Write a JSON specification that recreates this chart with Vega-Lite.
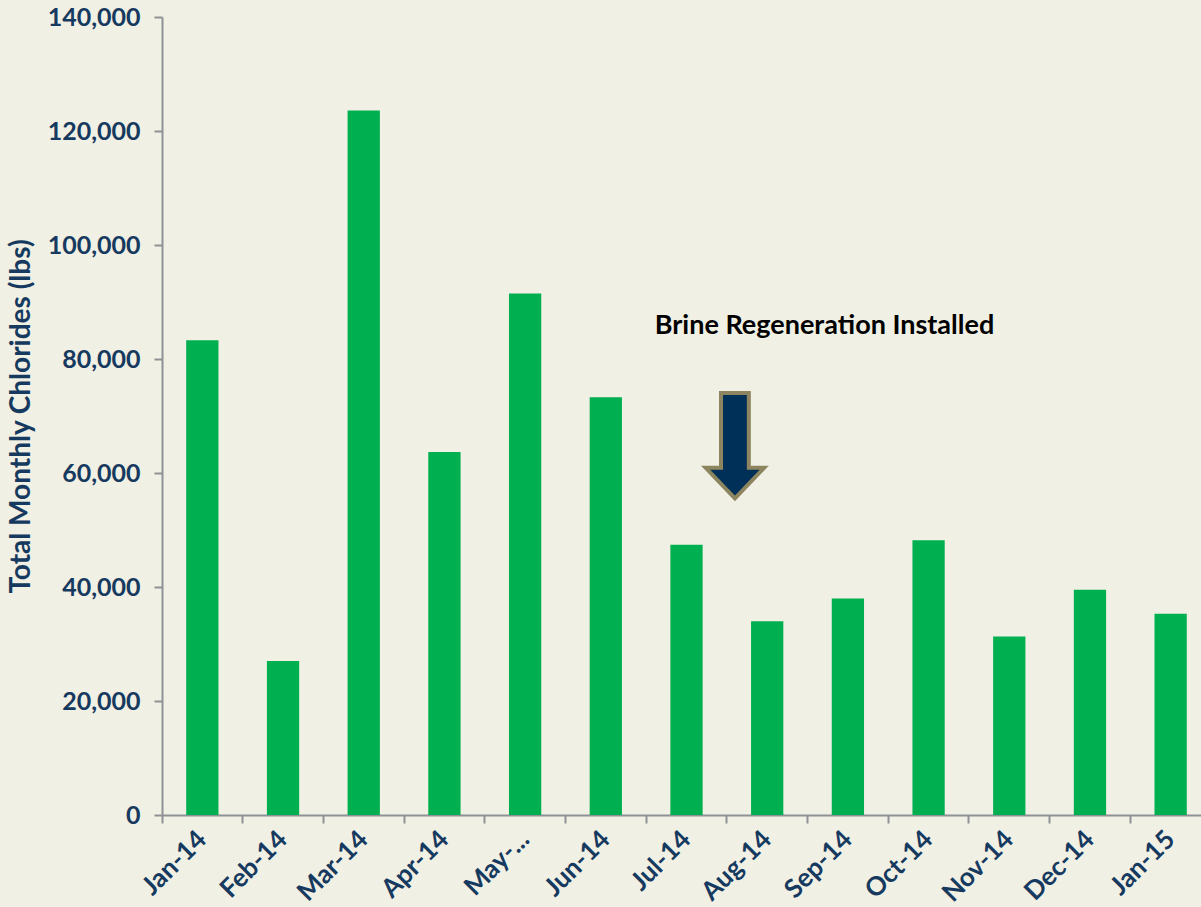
{
  "$schema": "https://vega.github.io/schema/vega-lite/v6.json",
  "autosize": {"type": "none"},
  "padding": {"left": 162, "top": 17, "right": 0, "bottom": 92},
  "width": 1049,
  "height": 798,
  "background": "#F1F0E4",
  "config": {
    "view": {"stroke": null},
    "font": "Lato"
  },
  "datasets": {
    "bars": [
      {"month": "Jan-14", "chlorides": 83300},
      {"month": "Feb-14", "chlorides": 27000},
      {"month": "Mar-14", "chlorides": 123600},
      {"month": "Apr-14", "chlorides": 63700},
      {"month": "May-...", "chlorides": 91500},
      {"month": "Jun-14", "chlorides": 73300},
      {"month": "Jul-14", "chlorides": 47400},
      {"month": "Aug-14", "chlorides": 34000},
      {"month": "Sep-14", "chlorides": 38000},
      {"month": "Oct-14", "chlorides": 48200},
      {"month": "Nov-14", "chlorides": 31300},
      {"month": "Dec-14", "chlorides": 39500},
      {"month": "Jan-15", "chlorides": 35300}
    ],
    "note": [
      {"month": "Aug-14", "label": "Brine Regeneration Installed", "textY": 85800, "arrowY": 64800}
    ]
  },
  "layer": [
    {
      "data": {"name": "bars"},
      "mark": {"type": "bar", "color": "#00B050", "width": {"band": 0.4}},
      "encoding": {
        "x": {
          "field": "month",
          "type": "nominal",
          "sort": null,
          "scale": {"paddingInner": 0, "paddingOuter": 0, "domain": ["Jan-14", "Feb-14", "Mar-14", "Apr-14", "May-...", "Jun-14", "Jul-14", "Aug-14", "Sep-14", "Oct-14", "Nov-14", "Dec-14", "Jan-15"]},
          "axis": {
            "title": null,
            "bandPosition": 0,
            "labelAngle": -45,
            "labelAlign": "right",
            "labelBaseline": "middle",
            "labelFont": "Lato",
            "labelFontSize": 26,
            "labelFontWeight": "bold",
            "labelColor": "#163A5F",
            "labelPadding": 12,
            "labelOffset": 0,
            "tickSize": 8,
            "tickColor": "#8E9196",
            "tickWidth": 2,
            "domainColor": "#8E9196",
            "domainWidth": 2
          }
        },
        "y": {
          "field": "chlorides",
          "type": "quantitative",
          "scale": {"domain": [0, 140000], "nice": false},
          "axis": {
            "title": "Total Monthly Chlorides (lbs)",
            "titleFont": "Lato",
            "titleFontSize": 28,
            "titleFontWeight": "bold",
            "titleColor": "#163A5F",
            "titlePadding": 12,
            "values": [0, 20000, 40000, 60000, 80000, 100000, 120000, 140000],
            "format": ",d",
            "grid": false,
            "labelFont": "Lato",
            "labelFontSize": 25,
            "labelFontWeight": "bold",
            "labelColor": "#163A5F",
            "labelPadding": 14,
            "tickSize": 8,
            "tickColor": "#8E9196",
            "tickWidth": 2,
            "domainColor": "#8E9196",
            "domainWidth": 2
          }
        }
      }
    },
    {
      "data": {"name": "note"},
      "mark": {"type": "text", "font": "Lato", "fontSize": 27, "fontWeight": "bold", "color": "#000000", "align": "center", "baseline": "middle"},
      "encoding": {
        "x": {"field": "month", "type": "nominal", "bandPosition": 1.21},
        "y": {"field": "textY", "type": "quantitative"},
        "text": {"field": "label"}
      }
    },
    {
      "data": {"name": "note"},
      "mark": {
        "type": "point",
        "shape": "M-0.264,-1L0.264,-1L0.264,0.42L0.555,0.42L0,1L-0.555,0.42L-0.264,0.42Z",
        "size": 11100,
        "filled": true,
        "fill": "#003057",
        "stroke": "#8C8560",
        "strokeWidth": 4,
        "opacity": 1
      },
      "encoding": {
        "x": {"field": "month", "type": "nominal", "bandPosition": 0.1},
        "y": {"field": "arrowY", "type": "quantitative"}
      }
    }
  ]
}
